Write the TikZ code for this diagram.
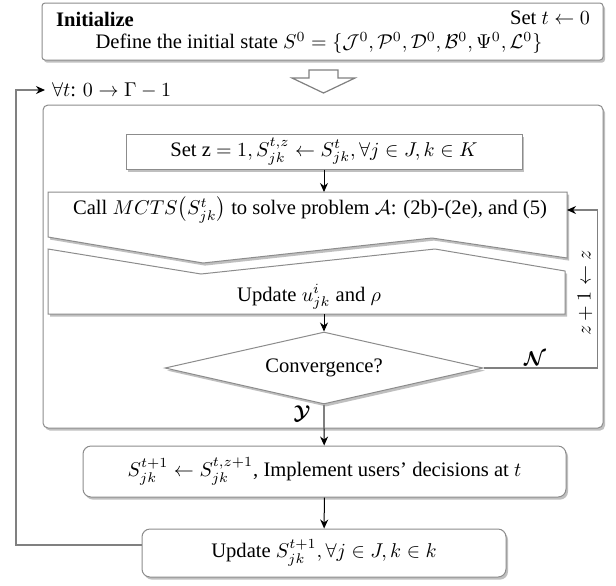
\documentclass[tikz,border=0pt]{standalone}
\usepackage{amsmath,amssymb}
\usepackage{fontspec}
\setmainfont{Liberation Serif}
\usetikzlibrary{arrows.meta,shadows,shapes.geometric}
\tikzset{
  gline/.style={draw=black!50, line width=0.6pt},
  shad/.style={drop shadow={shadow xshift=1pt, shadow yshift=-1.3pt, fill=black!45, opacity=0.55}},
  box/.style={draw=black!45, fill=white, line width=0.5pt, shad, inner sep=0pt},
  arr/.style={-{Stealth[length=4.5pt,width=4pt]}, line width=0.5pt},
  fbarr/.style={draw=black!50, line width=0.6pt, -{Stealth[length=4.5pt,width=4pt,color=black]}},
}
\begin{document}
\begin{tikzpicture}[x=0.5pt,y=-0.5pt,font=\fontsize{10.3}{12}\selectfont]
\useasboundingbox (0,0) rectangle (616,585);

% initialize box
\node[box, rounded corners=1.5pt, minimum width=280.5pt, minimum height=28.5pt] (init) at (322.5,31.5) {};
\node[anchor=west] (inittitle) at (49,19) {\bfseries Initialize};
\node[anchor=east] (sett) at (597,18) {Set $t\leftarrow 0$};
\node (define) at (319,43) {Define the initial state $S^0=\{\mathcal{J}^0,\mathcal{P}^0,\mathcal{D}^0,\mathcal{B}^0,\Psi^0,\mathcal{L}^0\}$};

% hollow arrow
\draw[gline, fill=white] (309,70) -- (338,70) -- (338,78) -- (355,78) -- (323.5,93) -- (292,78) -- (309,78) -- cycle;

% loop label
\node[anchor=west] (loopl) at (45,90) {$\forall t$: $0\rightarrow\Gamma-1$};

% outer box
\node[box, rounded corners=2.5pt, minimum width=280pt, minimum height=161.5pt] (outer) at (323,266.5) {};

% set z
\node[box, minimum width=198pt, minimum height=17.5pt] (setz) at (324,151.5) {Set z $=1, S^{t,z}_{jk}\leftarrow S^{t}_{jk}, \forall j\in J, k\in K$};

% lower zigzag piece
\path[box] (48,249) -- (201,274) -- (435,249) -- (565,271) -- (565,314) -- (48,314) -- cycle;
% upper zigzag piece
\path[box] (48,192) -- (567,192) -- (567,258) -- (432,238) -- (203,263) -- (48,237) -- cycle;
\coordinate (callT) at (324,192);
\coordinate (callR) at (567,210);
\coordinate (updB) at (324,314);

\node (call) at (310,210) {Call $MCTS\big(S^t_{jk}\big)$ to solve problem $\mathcal{A}$: (2b)-(2e), and (5)};
\node (upd) at (309,297) {Update $u^i_{jk}$ and $\rho$};

% diamond
\node[box, diamond, shape aspect=4.4, minimum width=159pt, minimum height=36pt] (conv) at (324,368) {Convergence?};

% S box and bottom box
\node[box, rounded corners=4pt, minimum width=241.5pt, minimum height=25.5pt] (sbox) at (324.5,471.5) {$S^{t+1}_{jk}\leftarrow S^{t,z+1}_{jk}$, Implement users’ decisions at $t$};
\node[box, rounded corners=4pt, minimum width=182pt, minimum height=24pt] (upbox) at (324,553) {Update $S^{t+1}_{jk}, \forall j\in J, k\in k$};

% labels
\node[rotate=90] (zlab) at (585,293) {$z+1\leftarrow z$};
\node (nlab) at (535,359) {$\boldsymbol{\mathcal{N}}$};
\node (ylab) at (302,414) {$\boldsymbol{\mathcal{Y}}$};

% connectors
\draw[arr] (setz) -- (callT);
\draw[arr] (updB) -- (conv);
\draw[gline] (conv.south) -- (conv.south |- outer.south);
\draw[arr] (conv.south |- outer.south) -- (sbox);
\draw[arr] (sbox) -- (upbox);
\draw[fbarr] (conv.east) -- ++(114,0) |- (callR);
\draw[fbarr] ([yshift=4pt]upbox.west) -| ([xshift=-14.5pt]loopl.west) -- (loopl.west);
\end{tikzpicture}
\end{document}
